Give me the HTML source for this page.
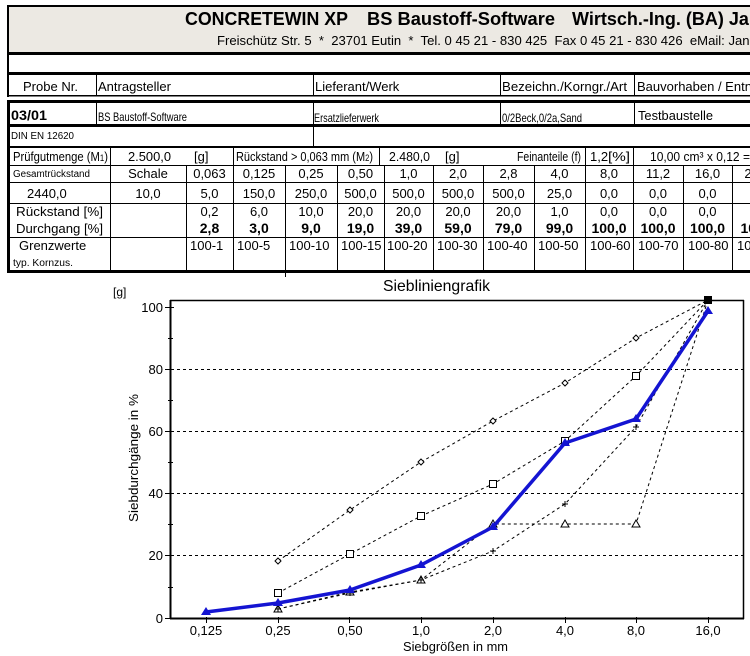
<!DOCTYPE html>
<html><head><meta charset="utf-8"><style>
html,body{margin:0;padding:0;background:#fff;width:750px;height:656px;overflow:hidden}
svg{display:block}
text{font-family:"Liberation Sans",Arial,sans-serif;fill:#000}
.t13{font-size:13px}
.c{text-anchor:middle}
.b{font-family:"Liberation Serif","Times New Roman",serif;font-weight:bold;font-size:14px}
</style></head><body>
<svg width="750" height="656" viewBox="0 0 750 656" xmlns="http://www.w3.org/2000/svg">
<!-- HEADER -->
<rect x="8" y="6" width="742" height="48" fill="#ECE9E3"/>
<rect x="7" y="5" width="743" height="2" fill="#000"/>
<rect x="7" y="5" width="2" height="92" fill="#000"/>
<rect x="7" y="52" width="743" height="3" fill="#000"/>
<rect x="7" y="72" width="743" height="3" fill="#000"/>
<rect x="7" y="95" width="743" height="1.5" fill="#000"/>
<g fill="#000"><rect x="96" y="74" width="1" height="22"/><rect x="313" y="74" width="1" height="22"/><rect x="500" y="74" width="1" height="22"/><rect x="634" y="74" width="1" height="22"/></g>
<text x="185" y="25" font-size="18" font-weight="bold" textLength="163" lengthAdjust="spacingAndGlyphs">CONCRETEWIN XP</text>
<text x="367" y="25" font-size="18" font-weight="bold" textLength="188" lengthAdjust="spacingAndGlyphs">BS Baustoff-Software</text>
<text x="572" y="25" font-size="18" font-weight="bold">Wirtsch.-Ing. (BA) Jan</text>
<text x="217" y="45" font-size="13.1" xml:space="preserve" style="white-space:pre">Freischütz Str. 5  *  23701 Eutin  *  Tel. 0 45 21 - 830 425  Fax 0 45 21 - 830 426  eMail: Jan</text>
<g class="t13">
<text x="23" y="91" textLength="55" lengthAdjust="spacingAndGlyphs">Probe Nr.</text>
<text x="98" y="91">Antragsteller</text>
<text x="315" y="91">Lieferant/Werk</text>
<text x="502" y="91" textLength="125" lengthAdjust="spacingAndGlyphs">Bezeichn./Korngr./Art</text>
<text x="637" y="91">Bauvorhaben / Entn</text>
</g>
<!-- TABLE 2 -->
<rect x="7" y="100" width="743" height="3" fill="#000"/>
<rect x="7" y="100" width="3" height="173" fill="#000"/>
<g fill="#000"><rect x="96" y="103" width="1" height="21"/><rect x="313" y="103" width="1" height="21"/><rect x="500" y="103" width="1" height="21"/><rect x="634" y="103" width="1" height="21"/></g>
<rect x="7" y="124" width="743" height="3" fill="#000"/>
<rect x="313" y="127" width="1" height="19" fill="#000"/>
<rect x="7" y="146" width="743" height="2" fill="#000"/>
<text x="11" y="120" font-size="14" font-weight="bold" textLength="36" lengthAdjust="spacingAndGlyphs">03/01</text>
<text x="98" y="121" font-size="12" textLength="89" lengthAdjust="spacingAndGlyphs">BS Baustoff-Software</text>
<text x="314" y="122" font-size="12" textLength="65" lengthAdjust="spacingAndGlyphs">Ersatzlieferwerk</text>
<text x="502" y="122" font-size="12" textLength="80" lengthAdjust="spacingAndGlyphs">0/2Beck,0/2a,Sand</text>
<text x="638" y="120" class="t13" textLength="75" lengthAdjust="spacingAndGlyphs">Testbaustelle</text>
<text x="11" y="139" font-size="10" textLength="63" lengthAdjust="spacingAndGlyphs">DIN EN 12620</text>
<!-- grid lines table 3 -->
<g fill="#000">
<rect x="7" y="165" width="743" height="1"/>
<rect x="7" y="182" width="743" height="1"/>
<rect x="7" y="203" width="743" height="1"/>
<rect x="7" y="237" width="743" height="1"/>
<rect x="7" y="270" width="743" height="3"/>
<rect x="110" y="148" width="1" height="17"/><rect x="233" y="148" width="1" height="17"/><rect x="379" y="148" width="1" height="17"/><rect x="585" y="148" width="1" height="17"/><rect x="633" y="148" width="1" height="17"/>
<rect x="110" y="165" width="1" height="105"/><rect x="186" y="165" width="1" height="105"/><rect x="233" y="165" width="1" height="105"/><rect x="285" y="165" width="1" height="112"/><rect x="337" y="165" width="1" height="105"/><rect x="384" y="165" width="1" height="105"/><rect x="433" y="165" width="1" height="105"/><rect x="483" y="165" width="1" height="105"/><rect x="534" y="165" width="1" height="105"/><rect x="585" y="165" width="1" height="105"/><rect x="633" y="165" width="1" height="105"/><rect x="683" y="165" width="1" height="105"/><rect x="732" y="165" width="1" height="105"/>
</g>
<g class="t13">
<text x="13" y="161" textLength="95" lengthAdjust="spacingAndGlyphs">Prüfgutmenge (M<tspan font-size="9">1</tspan>)</text>
<text x="128" y="161" textLength="43" lengthAdjust="spacingAndGlyphs">2.500,0</text>
<text x="194" y="161">[g]</text>
<text x="236" y="161" textLength="137" lengthAdjust="spacingAndGlyphs">Rückstand &gt; 0,063 mm  (M<tspan font-size="9">2</tspan>)</text>
<text x="389" y="161" textLength="41" lengthAdjust="spacingAndGlyphs">2.480,0</text>
<text x="445" y="161">[g]</text>
<text x="517" y="161" textLength="64" lengthAdjust="spacingAndGlyphs">Feinanteile (f)</text>
<text x="590" y="161">1,2</text>
<text x="608" y="161" textLength="22" lengthAdjust="spacingAndGlyphs">[%]</text>
<text x="650" y="161" textLength="100" lengthAdjust="spacingAndGlyphs">10,00 cm³ x 0,12 =</text>
</g>
<text x="13" y="177" font-size="10" textLength="77" lengthAdjust="spacingAndGlyphs">Gesamtrückstand</text>
<g class="t13 c" text-anchor="middle">
<text x="148" y="178">Schale</text><text x="209.5" y="178">0,063</text><text x="259" y="178">0,125</text><text x="311" y="178">0,25</text><text x="360.5" y="178">0,50</text><text x="408.5" y="178">1,0</text><text x="458" y="178">2,0</text><text x="508.5" y="178">2,8</text><text x="559.5" y="178">4,0</text><text x="609" y="178">8,0</text><text x="658" y="178">11,2</text><text x="707.5" y="178">16,0</text><text x="757" y="178">22,4</text>
<text x="148" y="198">10,0</text><text x="209.5" y="198">5,0</text><text x="259" y="198">150,0</text><text x="311" y="198">250,0</text><text x="360.5" y="198">500,0</text><text x="408.5" y="198">500,0</text><text x="458" y="198">500,0</text><text x="508.5" y="198">500,0</text><text x="559.5" y="198">25,0</text><text x="609" y="198">0,0</text><text x="658" y="198">0,0</text><text x="707.5" y="198">0,0</text>
<text x="209.5" y="216">0,2</text><text x="259" y="216">6,0</text><text x="311" y="216">10,0</text><text x="360.5" y="216">20,0</text><text x="408.5" y="216">20,0</text><text x="458" y="216">20,0</text><text x="508.5" y="216">20,0</text><text x="559.5" y="216">1,0</text><text x="609" y="216">0,0</text><text x="658" y="216">0,0</text><text x="707.5" y="216">0,0</text>
</g>
<g class="b" text-anchor="middle">
<text x="209.5" y="233">2,8</text><text x="259" y="233">3,0</text><text x="311" y="233">9,0</text><text x="360.5" y="233">19,0</text><text x="408.5" y="233">39,0</text><text x="458" y="233">59,0</text><text x="508.5" y="233">79,0</text><text x="559.5" y="233">99,0</text><text x="609" y="233">100,0</text><text x="658" y="233">100,0</text><text x="707.5" y="233">100,0</text><text x="758" y="233">100,0</text>
</g>
<g class="t13">
<text x="27" y="198">2440,0</text>
<text x="16" y="216" textLength="87" lengthAdjust="spacingAndGlyphs">Rückstand [%]</text>
<text x="16" y="233" textLength="87" lengthAdjust="spacingAndGlyphs">Durchgang [%]</text>
<text x="19" y="250">Grenzwerte</text>
<text x="190" y="250">100-1</text><text x="237" y="250">100-5</text><text x="289" y="250">100-10</text><text x="341" y="250">100-15</text><text x="387" y="250">100-20</text><text x="437" y="250">100-30</text><text x="487" y="250">100-40</text><text x="538" y="250">100-50</text><text x="590" y="250">100-60</text><text x="638" y="250">100-70</text><text x="688" y="250">100-80</text><text x="737" y="250">100-90</text>
</g>
<text x="13" y="266" font-size="10" textLength="60" lengthAdjust="spacingAndGlyphs">typ. Kornzus.</text>

<!-- CHART -->
<text x="383" y="291" font-size="16" textLength="107" lengthAdjust="spacingAndGlyphs">Siebliniengrafik</text>
<text x="113" y="296" font-size="12">[g]</text>
<text transform="translate(138,458) rotate(-90)" text-anchor="middle" class="t13" textLength="128" lengthAdjust="spacingAndGlyphs">Siebdurchgänge in %</text>
<text x="403" y="651" class="t13" textLength="105" lengthAdjust="spacingAndGlyphs">Siebgrößen in mm</text>
<!-- grid -->
<g stroke="#000" stroke-width="1" stroke-dasharray="3,3" fill="none">
<line x1="171" y1="369.5" x2="743" y2="369.5"/>
<line x1="171" y1="431.5" x2="743" y2="431.5"/>
<line x1="171" y1="493.5" x2="743" y2="493.5"/>
<line x1="171" y1="555.5" x2="743" y2="555.5"/>
</g>
<!-- frame -->
<g stroke="#000" fill="none">
<line x1="170" y1="300.5" x2="744" y2="300.5" stroke-width="1.5"/>
<line x1="743.5" y1="300" x2="743.5" y2="619" stroke-width="1.5"/>
<line x1="170.5" y1="300" x2="170.5" y2="619" stroke-width="2"/>
<line x1="170" y1="618.5" x2="744" y2="618.5" stroke-width="2"/>
<g stroke-width="1">
<line x1="165" y1="307.5" x2="174" y2="307.5"/><line x1="165" y1="369.5" x2="174" y2="369.5"/><line x1="165" y1="431.5" x2="174" y2="431.5"/><line x1="165" y1="493.5" x2="174" y2="493.5"/><line x1="165" y1="555.5" x2="174" y2="555.5"/><line x1="165" y1="618.5" x2="174" y2="618.5"/>
<line x1="168" y1="338.5" x2="173" y2="338.5"/><line x1="168" y1="400.5" x2="173" y2="400.5"/><line x1="168" y1="462.5" x2="173" y2="462.5"/><line x1="168" y1="524.5" x2="173" y2="524.5"/><line x1="168" y1="587.5" x2="173" y2="587.5"/>
<line x1="206.5" y1="617" x2="206.5" y2="623"/><line x1="278.5" y1="617" x2="278.5" y2="623"/><line x1="349.5" y1="617" x2="349.5" y2="623"/><line x1="421.5" y1="617" x2="421.5" y2="623"/><line x1="493.5" y1="617" x2="493.5" y2="623"/><line x1="565.5" y1="617" x2="565.5" y2="623"/><line x1="636.5" y1="617" x2="636.5" y2="623"/><line x1="708.5" y1="617" x2="708.5" y2="623"/>
</g></g>
<g class="t13" text-anchor="end">
<text x="163" y="312">100</text><text x="163" y="374">80</text><text x="163" y="436">60</text><text x="163" y="498">40</text><text x="163" y="560">20</text><text x="163" y="623">0</text>
</g>
<g class="t13" text-anchor="middle">
<text x="206" y="635">0,125</text><text x="278" y="635">0,25</text><text x="350" y="635">0,50</text><text x="421" y="635">1,0</text><text x="493" y="635">2,0</text><text x="565" y="635">4,0</text><text x="636" y="635">8,0</text><text x="708" y="635">16,0</text>
</g>
<!-- series -->
<g stroke="#000" stroke-width="1" stroke-dasharray="3,3" fill="none">
<polyline points="278,561 350,510 421,462 493,421 565,383 636,338 708,300"/>
<polyline points="278,593 350,554 421,516 493,484 565,441 636,376 708,300"/>
<polyline points="278,609 350,593 421,580 493,551 565,504 636,427 708,300"/>
<polyline points="278,609 350,592 421,580 493,524 565,524 636,524 708,300"/>
</g>
<g stroke="#000" stroke-width="1" fill="#fff">
<polygon points="278,558 281,561 278,564 275,561"/><polygon points="350,507 353,510 350,513 347,510"/><polygon points="421,459 424,462 421,465 418,462"/><polygon points="493,418 496,421 493,424 490,421"/><polygon points="565,380 568,383 565,386 562,383"/><polygon points="636,335 639,338 636,341 633,338"/>
<rect x="274.5" y="589.5" width="7" height="7"/><rect x="346.5" y="550.5" width="7" height="7"/><rect x="417.5" y="512.5" width="7" height="7"/><rect x="489.5" y="480.5" width="7" height="7"/><rect x="561.5" y="437.5" width="7" height="7"/><rect x="632.5" y="372.5" width="7" height="7"/>
<polygon points="278,605 282,612 274,612"/><polygon points="350,588 354,595 346,595"/><polygon points="421,576 425,583 417,583"/><polygon points="493,520 497,527 489,527"/><polygon points="565,520 569,527 561,527"/><polygon points="636,520 640,527 632,527"/>
</g>
<g stroke="#000" stroke-width="1" fill="none">
<path d="M275 609H281M278 606V612M347 593H353M350 590V596M418 580H424M421 577V583M490 551H496M493 548V554M562 504H568M565 501V507M633 427H639M636 424V430"/>
</g>
<rect x="704" y="296" width="8" height="8" fill="#000"/>
<!-- blue series -->
<polyline points="206,612 278,603 350,590 421,565 493,527 565,443 636,419 708,311" fill="none" stroke="#1414D2" stroke-width="3.5" stroke-linejoin="round"/>
<g fill="#1414D2">
<polygon points="206,607 211,615 201,615"/><polygon points="278,598 283,606 273,606"/><polygon points="350,585 355,593 345,593"/><polygon points="421,560 426,568 416,568"/><polygon points="493,522 498,530 488,530"/><polygon points="565,438 570,446 560,446"/><polygon points="636,414 641,422 631,422"/><polygon points="708,306 713,314 703,314"/>
</g>
</svg>
</body></html>
